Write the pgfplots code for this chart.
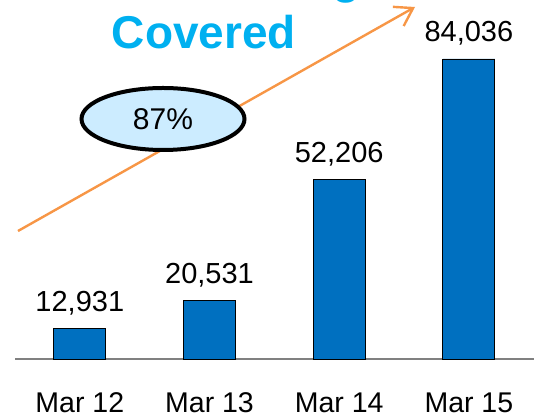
\documentclass[border=0pt]{standalone}
\usepackage{pgfplots}
\pgfplotsset{compat=1.18}
\usepackage{fontspec}
\setmainfont{Liberation Sans}
\usetikzlibrary{arrows.meta}
\definecolor{barblue}{HTML}{0070C0}
\definecolor{titlecyan}{HTML}{00B0F0}
\definecolor{arrorange}{HTML}{F79646}
\definecolor{ellfill}{HTML}{CCECFF}
\begin{document}
\begin{tikzpicture}[x=1pt,y=1pt]
\begin{axis}[
  at={(0,0)}, anchor=south west,
  scale only axis, width=518.7pt, height=359pt,
  xmin=-0.5, xmax=3.5, ymin=5000, ymax=99580,
  axis x line*=bottom, axis y line=none,
  x axis line style={draw=gray, line width=2pt},
  xtick={0,1,2,3}, xticklabels={Mar 12,Mar 13,Mar 14,Mar 15},
  major tick length=0pt, ytick=\empty,
  xticklabel style={font=\fontsize{28.5}{34}\selectfont, anchor=base, yshift=-53pt},
  ybar, bar width=52pt,
  nodes near coords, point meta=explicit symbolic,
  every node near coord/.append style={font=\fontsize{29}{34}\selectfont, anchor=base, yshift=17pt, text=black},
  clip=false,
]
\addplot[fill=barblue, draw=black, line width=0.8pt] coordinates {(0,12931) [{12,931}] (1,20531) [{20,531}] (2,52206) [{52,206}] (3,84036) [{84,036}]};
\end{axis}
\pgfresetboundingbox
\useasboundingbox (-15,-60) rectangle (519,359);
\node[font=\fontsize{46}{55}\selectfont\bfseries, text=titlecyan, anchor=base] at (189,310) {Covered};
\node[font=\fontsize{46}{55}\selectfont\bfseries, text=titlecyan, anchor=base] at (189,365) {Number of Villages};
\draw[arrorange, line width=2.4pt, -{Straight Barb[length=17pt,width=22pt]}] (3,128) -- (400,352);
\draw[line width=4pt, fill=ellfill] (148,240) ellipse [x radius=81.5pt, y radius=31pt];
\node[font=\fontsize{30}{36}\selectfont, anchor=base] at (148,229) {87\%};
\end{tikzpicture}
\end{document}
